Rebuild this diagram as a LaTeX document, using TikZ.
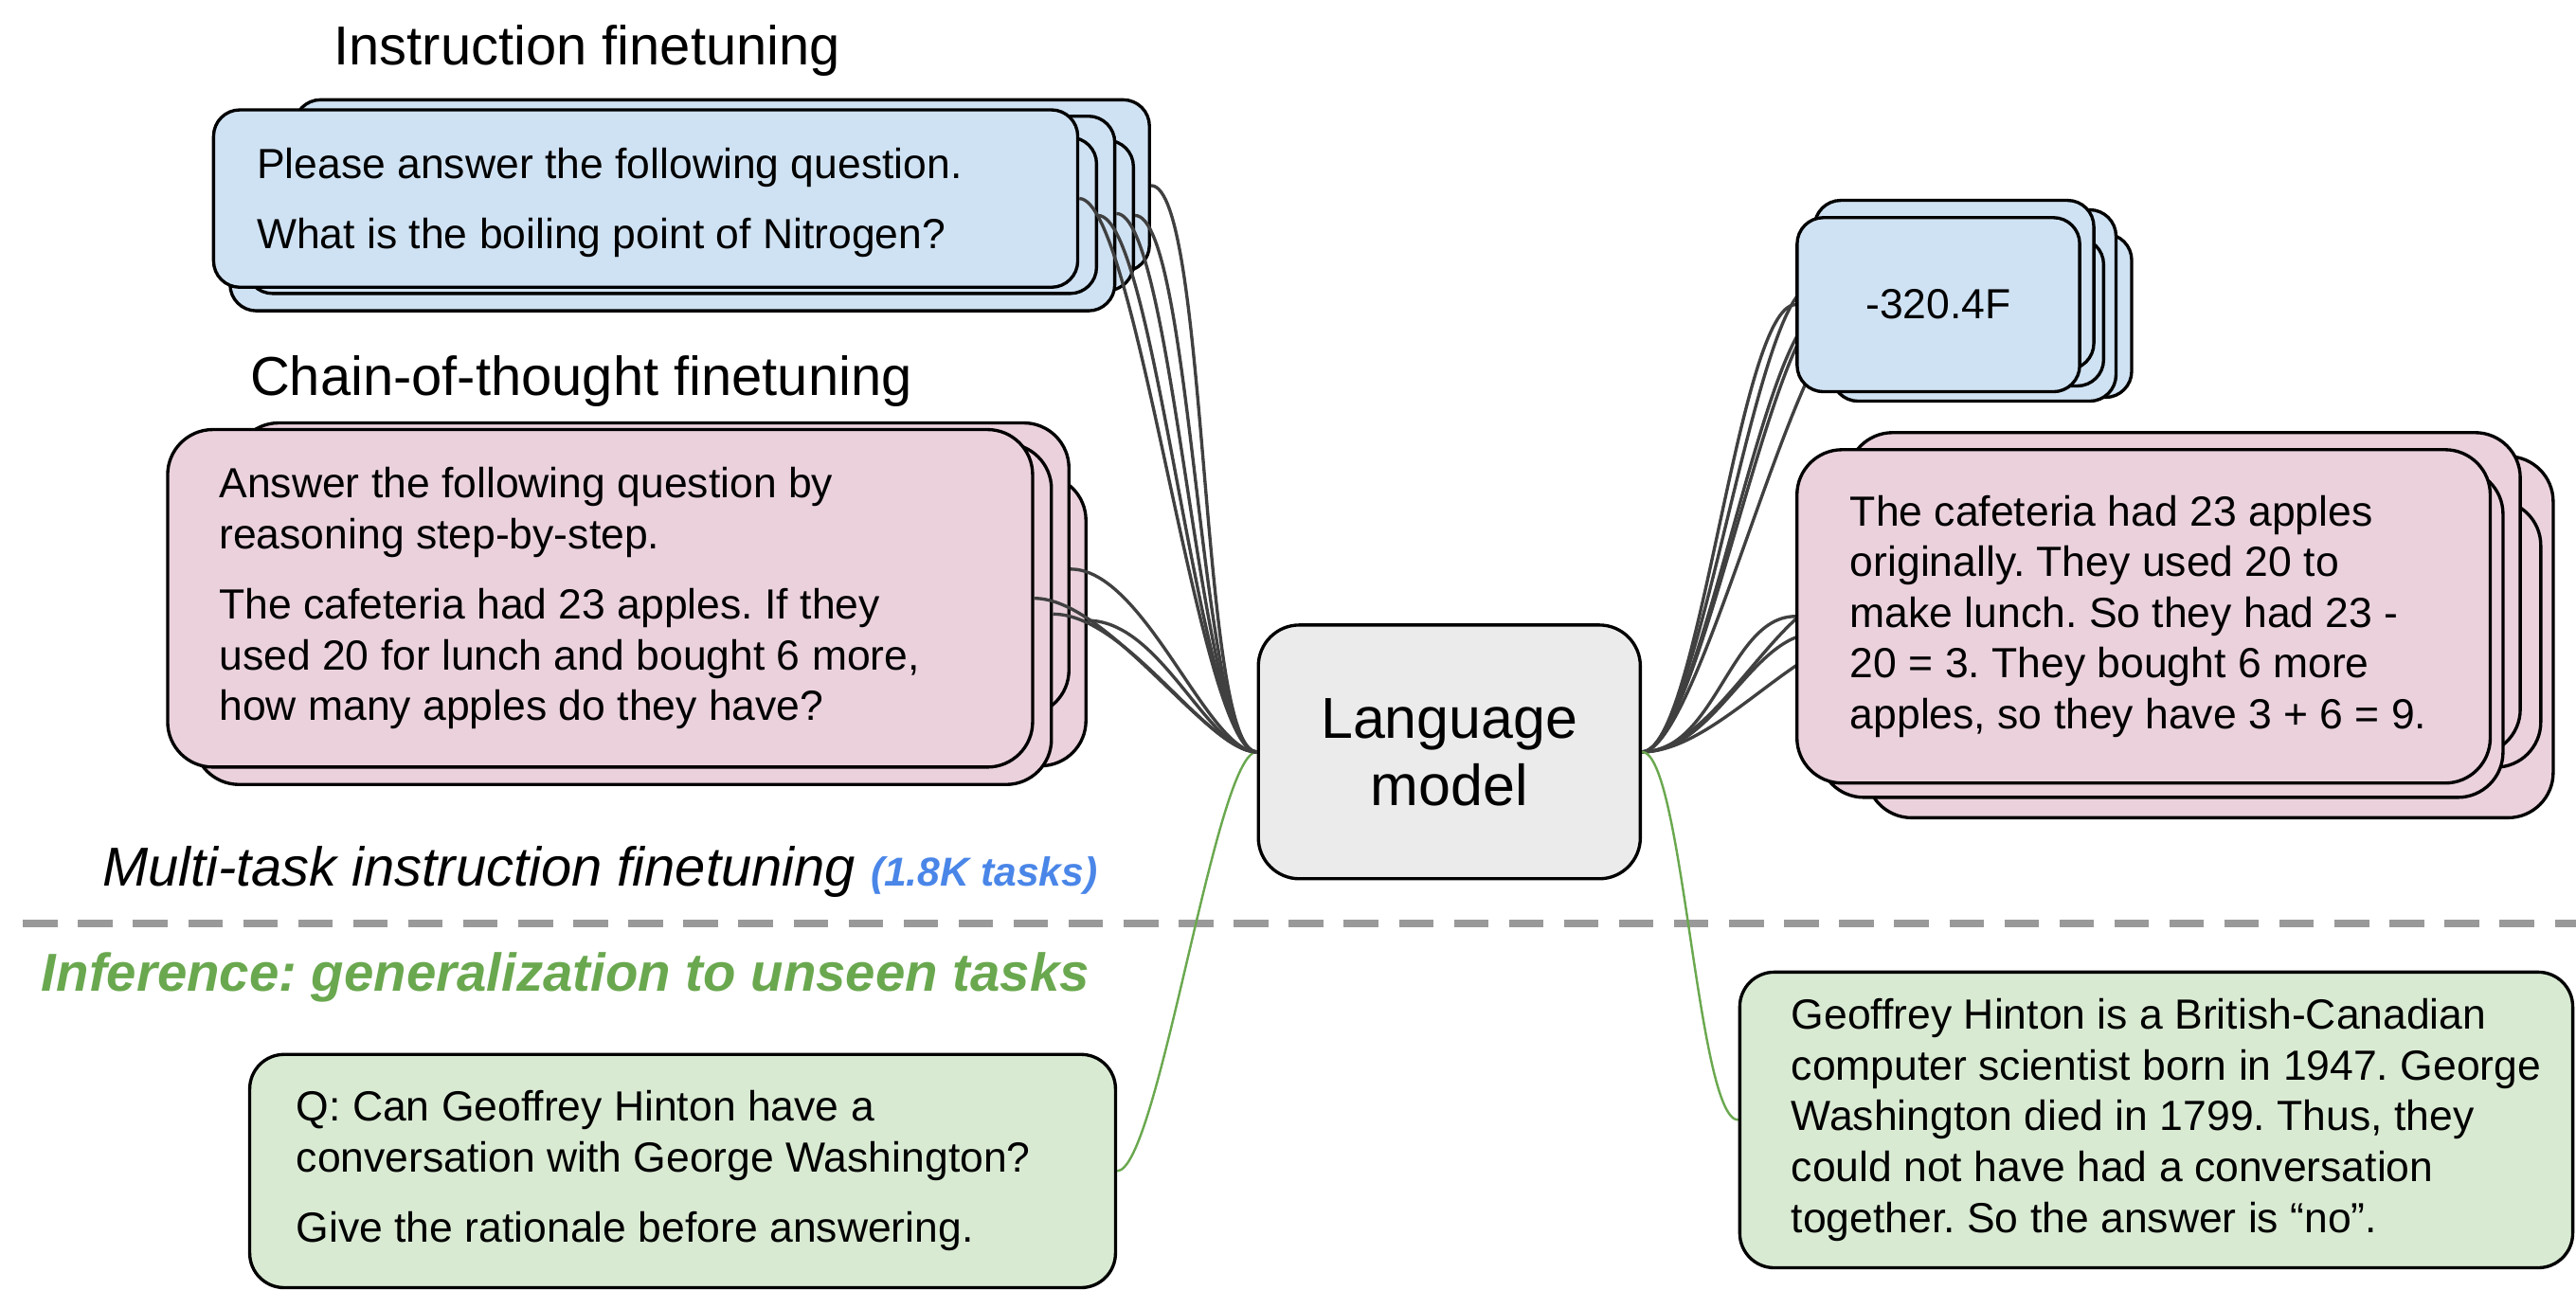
\documentclass[tikz,border=0pt]{standalone}
\usepackage{fontspec}
\setmainfont{Liberation Sans}
\usetikzlibrary{positioning,backgrounds}
\definecolor{cardblue}{HTML}{CFE2F3}
\definecolor{cardpink}{HTML}{EAD1DC}
\definecolor{cardgreen}{HTML}{D9EAD3}
\definecolor{cardgray}{HTML}{EBEBEB}
\definecolor{wiregray}{HTML}{404040}
\definecolor{sepgray}{HTML}{999999}
\definecolor{infgreen}{HTML}{6AA84F}
\definecolor{taskblue}{HTML}{4A86E8}
\frenchspacing
\tikzset{
semithick,
node distance=1.5cm,
>=stealth,
card/.style={draw,line width=1.1pt,rectangle,inner sep=0pt},
bluecard/.style={card,fill=cardblue,rounded corners=3.2mm},
pinkcard/.style={card,fill=cardpink,rounded corners=5.5mm},
greencard/.style={card,fill=cardgreen,rounded corners=4.2mm},
lmcard/.style={card,fill=cardgray,rounded corners=5mm},
body/.style={font=\fontsize{14.6}{17.6}\selectfont,align=left,inner sep=0pt},
head/.style={font=\fontsize{19}{23}\selectfont,inner sep=0pt,anchor=west},
wire/.style={draw=wiregray,line width=1.1pt,out=0,in=180},
gwire/.style={draw=infgreen,line width=0.8pt,out=0,in=180},
sepline/.style={draw=sepgray,line width=2.6pt,dash pattern=on 4.2mm off 2.5mm}
}

\begin{document}
\begin{tikzpicture}[x=0.2mm,y=-0.2mm]
\useasboundingbox (0,0) rectangle (1568,785);

\node[bluecard,minimum width=104.1mm,minimum height=20.9mm] (bi4) at (439.4,113) {};
\node[bluecard,minimum width=104mm,minimum height=18.3mm] (bi3) at (429.9,131.2) {};
\node[bluecard,minimum width=107.7mm,minimum height=23.7mm] (bi2) at (409.3,130) {};
\node[bluecard,minimum width=103.5mm,minimum height=19mm] (bi1) at (408.7,131.2) {};
\node[bluecard,minimum width=105.2mm,minimum height=21.6mm] (bi0) at (393,120.9) {};
\node[body,right=5.4mm of bi0.west,yshift=-0.5mm] (bitext) {Please answer the following question.\\[6.8pt]What is the boiling point of Nitrogen?};

\node[pinkcard,minimum width=92.2mm,minimum height=35.4mm] (pi3) at (430.5,377.8) {};
\node[pinkcard,minimum width=101.7mm,minimum height=35.6mm] (pi2) at (396.4,346.5) {};
\node[pinkcard,minimum width=104.4mm,minimum height=41.5mm] (pi1) at (379,373.9) {};
\node[pinkcard,minimum width=105.3mm,minimum height=41.1mm] (pi0) at (365.3,364.3) {};
\node[body,right=6.4mm of pi0.west] (pitext) {Answer the following question by\\reasoning step-by-step.\\[6.8pt]The cafeteria had 23 apples. If they\\used 20 for lunch and bought 6 more,\\how many apples do they have?};

\node[lmcard,minimum width=46.5mm,minimum height=30.9mm,align=center,font=\fontsize{20}{23.3}\selectfont] (lm) at (882.2,457.8) {Language\\model};

\node[bluecard,minimum width=33.5mm,minimum height=19.9mm] (bo4) at (1213.8,192.2) {};
\node[bluecard,minimum width=34.6mm,minimum height=23.3mm] (bo3) at (1201.5,186) {};
\node[bluecard,minimum width=34.1mm,minimum height=18mm] (bo2) at (1195.2,190) {};
\node[bluecard,minimum width=34mm,minimum height=20.6mm] (bo1) at (1189.5,173.5) {};
\node[bluecard,minimum width=34.4mm,minimum height=21.2mm] (bo0) at (1179.9,185.5) {};
\node[body] (botext) at (bo0) {-320.4F};

\node[pinkcard,minimum width=83.6mm,minimum height=44mm] (po4) at (1345.1,387.9) {};
\node[pinkcard,minimum width=69.3mm,minimum height=32.5mm] (po3) at (1373.3,385.9) {};
\node[pinkcard,minimum width=81.9mm,minimum height=39.2mm] (po2) at (1329.3,361.4) {};
\node[pinkcard,minimum width=83.3mm,minimum height=40mm] (po1) at (1315.3,385.5) {};
\node[pinkcard,minimum width=84.4mm,minimum height=40.6mm] (po0) at (1304.8,375.3) {};
\node[body,right=6.6mm of po0.west] (potext) {The cafeteria had 23 apples\\originally. They used 20 to\\make lunch. So they had 23 -\\20 = 3. They bought 6 more\\apples, so they have 3 + 6 = 9.};

\node[greencard,minimum width=105.4mm,minimum height=28.4mm] (gl) at (415.5,713) {};
\node[body,right=5.8mm of gl.west] (gltext) {Q: Can Geoffrey Hinton have a\\conversation with George Washington?\\[6.8pt]Give the rationale before answering.};
\node[greencard,minimum width=101.4mm,minimum height=36mm] (gr) at (1312.5,681.9) {};
\node[body,right=6.4mm of gr.west] (grtext) {Geoffrey Hinton is a British-Canadian\\computer scientist born in 1947. George\\Washington died in 1799. Thus, they\\could not have had a conversation\\together. So the answer is “no”.};

\node[head] (instr) at (203,31) {Instruction finetuning};
\node[head] (cot) at (152,232) {Chain-of-thought finetuning};
\node[head,font=\fontsize{19}{23}\selectfont\itshape] (multi) at (62,531) {Multi-task instruction finetuning {\fontsize{14}{17}\selectfont\bfseries\color{taskblue}(1.8K tasks)}};
\node[head,font=\fontsize{18.5}{22}\selectfont\bfseries\itshape,text=infgreen] (infer) at (25,595) {Inference: generalization to unseen tasks};

\coordinate (sepL) at (14,562);
\coordinate (sepR) at (1568,562);

\path[wire,out distance=7mm,in distance=7mm]
  (bi0.east) edge (lm.west)
  (bi1.east) edge (lm.west)
  (bi2.east) edge (lm.west)
  (bi3.east) edge (lm.west)
  (bi4.east) edge (lm.west);
\path[wire,out distance=9mm,in distance=6mm]
  (pi0.east) edge (lm.west)
  (pi1.east) edge (lm.west)
  (pi2.east) edge (lm.west)
  (pi3.east) edge (lm.west);

\begin{scope}[on background layer]
\draw[sepline] (sepL) -- (sepR);
\path[wire,out distance=7mm,in distance=7mm] (lm.east)
  edge (bo0.west) edge (bo1.west) edge (bo2.west) edge (bo3.west) edge (bo4.west);
\path[wire,out distance=9mm,in distance=8mm] (lm.east)
  edge (po0.west) edge (po1.west) edge (po2.west) edge (po4.west);
\path[gwire,out distance=5mm,in distance=5mm]
  (gl.east) edge (lm.west)
  (lm.east) edge (gr.west);
\end{scope}
\end{tikzpicture}
\end{document}
